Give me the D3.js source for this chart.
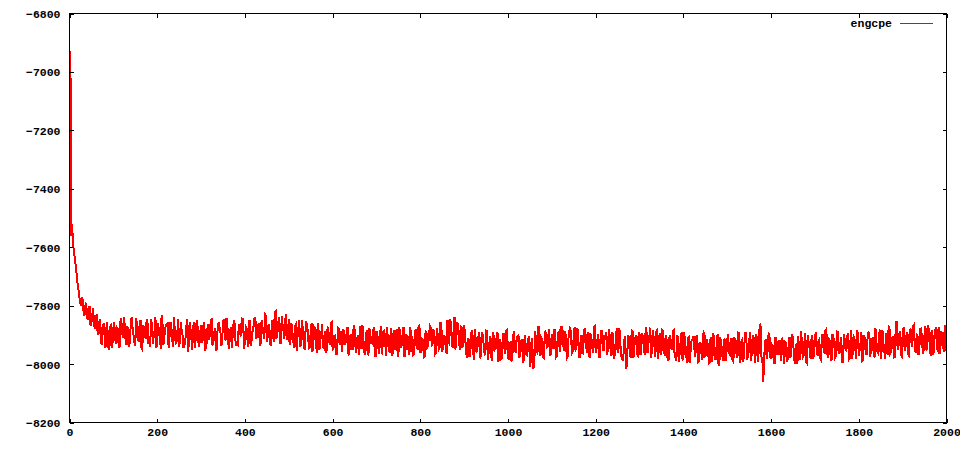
<!DOCTYPE html>
<html>
<head>
<meta charset="utf-8">
<script src="https://cdn.jsdelivr.net/npm/d3@7/dist/d3.min.js"></script>
<style>
  html, body { margin: 0; padding: 0; background: #fff; }
  svg { display: block; }
  .tick text { font-family: "Liberation Mono", "DejaVu Sans Mono", monospace; font-weight: bold; font-size: 11.5px; fill: #000; }
</style>
</head>
<body>
<svg id="chart" width="960" height="450"></svg>
<script>
// ---- data ----
const seriesName = "engcpe";
// samples at steps 2, 6, 10, ... (energyA) and 4, 8, 12, ... (energyB)
const energyA = [
-6928,-7520,-7610,-7660,-7720,-7760,-7800,-7780,-7835,-7790,
-7850,-7800,-7860,-7810,-7880,-7830,-7900,-7845,-7935,-7860,
-7945,-7855,-7950,-7870,-7930,
-7855,-7930,-7880,-7945,-7842,-7910,-7865,-7935,-7885,-7920,
-7840,-7900,-7938,-7868,-7925,-7850,-7950,-7875,-7915,-7860,
-7907,-7847,-7930,-7884,-7944,-7859,-7897,-7834,-7934,-7880,
-7867,-7945,-7855,-7913,-7840,-7928,-7892,-7942,-7857,-7903,
-7936,-7880,-7958,-7856,-7912,-7870,-7944,-7848,-7928,-7894,
-7928,-7856,-7948,-7883,-7918,-7850,-7936,-7890,-7954,-7868,
-7874,-7939,-7856,-7906,-7842,-7929,-7889,-7944,-7864,-7916,
-7932,-7867,-7902,-7844,-7947,-7874,-7920,-7852,-7938,-7880,
-7840,-7915,-7870,-7937,-7850,-7893,-7830,-7925,-7863,-7933,
-7848,-7923,-7820,-7898,-7838,-7928,-7866,-7913,-7830,-7906,
-7935,-7860,-7915,-7870,-7955,-7878,-7942,-7850,-7925,-7892,
-7866,-7946,-7890,-7958,-7873,-7920,-7860,-7952,-7903,-7938,
-7887,-7960,-7872,-7934,-7857,-7947,-7902,-7967,-7880,-7930,
-7958,-7888,-7926,-7873,-7970,-7898,-7948,-7880,-7963,-7903,
-7870,-7945,-7908,-7968,-7885,-7960,-7898,-7930,-7875,-7975,
-7894,-7964,-7870,-7940,-7884,-7972,-7914,-7957,-7877,-7947,
-7950,-7880,-7975,-7900,-7932,-7872,-7960,-7905,-7970,-7885,
-7904,-7967,-7880,-7950,-7867,-7960,-7917,-7974,-7890,-7937,
-7870,-7935,-7885,-7965,-7877,-7950,-7857,-7957,-7900,-7943,
-7848,-7930,-7860,-7945,-7840,-7920,-7865,-7950,-7875,-7938,
-7900,-7978,-7915,-7965,-7885,-7985,-7908,-7950,-7890,-7972,
-7897,-7960,-7885,-7987,-7923,-7975,-7890,-7950,-7907,-7993,
-7916,-7981,-7894,-7966,-7881,-7986,-7926,-7974,-7888,-7958,
-7905,-7980,-7922,-7995,-7900,-7968,-7915,-8010,-7910,-8015,
-7888,-7958,-7873,-7973,-7916,-7980,-7893,-7946,-7880,-7966,
-7945,-7880,-7975,-7895,-7960,-7873,-7933,-7887,-7980,-7910,
-7872,-7962,-7900,-7952,-7877,-7977,-7912,-7967,-7884,-7934,
-7890,-7975,-7910,-7963,-7870,-7947,-7897,-7973,-7883,-7955,
-7908,-7970,-7880,-7953,-7890,-7983,-7916,-7963,-7876,-7973,
-7990,-7905,-8015,-7900,-7970,-7885,-7980,-7912,-7965,-7890,
-7970,-7895,-7945,-7873,-7963,-7915,-7980,-7883,-7940,-7890,
-7982,-7894,-7960,-7887,-7972,-7917,-7987,-7902,-7952,-7884,
-7977,-7902,-7992,-7917,-7984,-7892,-7957,-7910,-7997,-7922,
-7907,-7975,-7900,-7993,-7925,-7985,-7890,-7970,-7915,-7997,
-7908,-7993,-7920,-7983,-7898,-8006,-7933,-7990,-7913,-7968,
-7897,-7967,-7910,-7992,-7924,-7980,-7894,-7997,-7917,-7972,
-7890,-7980,-7925,-7988,-7902,-7962,-7898,-7992,-7862,-7975,
-8062,-7925,-7983,-7900,-7975,-7933,-7993,-7910,-7965,-7920,
-7988,-7918,-8000,-7926,-7983,-7908,-7963,-7913,-7998,-7930,
-7904,-7987,-7917,-7972,-7894,-7997,-7930,-7982,-7900,-7962,
-7891,-7971,-7916,-7986,-7901,-7964,-7881,-7978,-7921,-7984,
-7908,-7978,-7888,-7963,-7926,-7993,-7898,-7956,-7903,-7983,
-7883,-7965,-7910,-7983,-7897,-7950,-7890,-7987,-7915,-7970,
-7892,-7977,-7917,-7970,-7877,-7957,-7902,-7982,-7884,-7952,
-7893,-7968,-7878,-7958,-7908,-7976,-7853,-7953,-7888,-7973,
-7875,-7955,-7892,-7970,-7882,-7940,-7865,-7962,-7905,-7950,
-7878,-7966,-7896,-7953,-7868,-7943,-7883,-7970,-7888,-7933,
-7873,-7948,-7898,-7958,-7880
];
const energyB = [
-7560,-7590,-7640,-7690,-7740,-7790,-7770,-7820,-7800,-7840,
-7815,-7870,-7830,-7865,-7840,-7890,-7855,-7925,-7870,-7905,
-7880,-7940,-7875,-7945,-7880,
-7910,-7875,-7935,-7855,-7895,-7840,-7920,-7870,-7940,-7850,
-7880,-7925,-7842,-7915,-7860,-7945,-7868,-7900,-7845,-7930,
-7940,-7862,-7904,-7840,-7930,-7884,-7947,-7857,-7912,-7867,
-7857,-7910,-7870,-7940,-7883,-7925,-7845,-7917,-7890,-7945,
-7925,-7845,-7935,-7882,-7950,-7858,-7908,-7872,-7940,-7868,
-7918,-7883,-7943,-7863,-7903,-7848,-7928,-7878,-7948,-7858,
-7884,-7929,-7846,-7919,-7864,-7949,-7872,-7904,-7849,-7934,
-7935,-7865,-7900,-7845,-7925,-7880,-7942,-7852,-7908,-7870,
-7847,-7900,-7860,-7930,-7873,-7915,-7835,-7907,-7880,-7935,
-7903,-7823,-7913,-7860,-7928,-7836,-7886,-7850,-7918,-7846,
-7920,-7885,-7945,-7865,-7905,-7850,-7930,-7880,-7950,-7860,
-7898,-7943,-7860,-7933,-7878,-7963,-7886,-7918,-7863,-7948,
-7960,-7882,-7924,-7860,-7950,-7904,-7967,-7877,-7932,-7887,
-7880,-7933,-7893,-7963,-7906,-7948,-7868,-7940,-7913,-7968,
-7945,-7865,-7955,-7902,-7970,-7878,-7928,-7892,-7960,-7888,
-7942,-7907,-7967,-7887,-7927,-7872,-7952,-7902,-7972,-7882,
-7910,-7955,-7872,-7945,-7890,-7975,-7898,-7930,-7875,-7960,
-7970,-7892,-7934,-7870,-7960,-7914,-7977,-7887,-7942,-7897,
-7877,-7930,-7890,-7960,-7903,-7945,-7865,-7937,-7910,-7965,
-7925,-7845,-7935,-7882,-7950,-7858,-7908,-7872,-7940,-7868,
-7950,-7915,-7975,-7895,-7935,-7880,-7960,-7910,-7980,-7890,
-7925,-7970,-7887,-7960,-7905,-7990,-7913,-7945,-7890,-7975,
-7984,-7906,-7948,-7884,-7974,-7928,-7991,-7901,-7956,-7911,
-7902,-7955,-7915,-7985,-7928,-7970,-7905,-7990,-7950,-8000,
-7953,-7873,-7963,-7910,-7978,-7886,-7936,-7900,-7968,-7896,
-7945,-7910,-7970,-7890,-7930,-7875,-7955,-7905,-7975,-7885,
-7912,-7957,-7874,-7947,-7892,-7977,-7900,-7932,-7877,-7962,
-7973,-7895,-7937,-7873,-7963,-7917,-7980,-7890,-7945,-7900,
-7890,-7943,-7903,-7973,-7916,-7958,-7878,-7950,-7923,-7978,
-7955,-7950,-7965,-7912,-7980,-7888,-7938,-7902,-7970,-7898,
-7945,-7910,-7970,-7890,-7930,-7875,-7955,-7905,-7975,-7885,
-7922,-7967,-7884,-7957,-7902,-7987,-7910,-7942,-7887,-7972,
-7990,-7912,-7954,-7890,-7980,-7934,-7997,-7907,-7962,-7917,
-7907,-7960,-7920,-7990,-7933,-7975,-7895,-7967,-7940,-7995,
-7973,-7893,-7983,-7930,-7998,-7906,-7956,-7920,-7988,-7916,
-7962,-7927,-7987,-7907,-7947,-7892,-7972,-7922,-7992,-7902,
-7930,-7975,-7892,-7965,-7910,-7995,-7918,-7950,-7870,-7980,
-7993,-7915,-7957,-7893,-7983,-7937,-8000,-7910,-7965,-7920,
-7910,-7963,-7923,-7993,-7936,-7978,-7898,-7970,-7943,-7998,
-7967,-7887,-7977,-7924,-7992,-7900,-7950,-7914,-7982,-7910,
-7956,-7921,-7981,-7901,-7941,-7886,-7966,-7916,-7986,-7896,
-7928,-7973,-7890,-7963,-7908,-7993,-7916,-7948,-7893,-7978,
-7983,-7905,-7947,-7883,-7973,-7927,-7990,-7900,-7955,-7910,
-7894,-7947,-7907,-7977,-7920,-7962,-7882,-7954,-7927,-7982,
-7953,-7873,-7963,-7910,-7978,-7886,-7936,-7900,-7968,-7896,
-7940,-7905,-7965,-7885,-7925,-7870,-7950,-7900,-7970,-7880,
-7908,-7953,-7870,-7943,-7888,-7973,-7896,-7928,-7873,-7958,
-7966,-7888,-7930,-7866,-7956
];
const xTicks = [0, 200, 400, 600, 800, 1000, 1200, 1400, 1600, 1800, 2000];
const yTicks = [-8200, -8000, -7800, -7600, -7400, -7200, -7000, -6800];

// ---- layout ----
const svg = d3.select("#chart");
const L = 69.5, R = 946.5, T = 13.5, B = 422.5;

const x = d3.scaleLinear().domain([0, 2000]).range([L, R]);
const y = d3.scaleLinear().domain([-8200, -6800]).range([B, T]);

const points = [];
energyA.forEach((v, i) => {
  points.push([2 + 4 * i, v]);
  points.push([4 + 4 * i, energyB[i]]);
});

// data line
svg.append("path")
  .datum(points)
  .attr("fill", "none")
  .attr("stroke", "#ff0000")
  .attr("stroke-width", 2)
  .attr("stroke-linejoin", "miter")
  .attr("shape-rendering", "crispEdges")
  .attr("d", d3.line().x(d => x(d[0])).y(d => y(d[1])));

// axes with inward ticks (mirrored on all four sides)
function styleAxis(g) {
  g.select(".domain").remove();
  g.selectAll(".tick line").attr("stroke", "#000").attr("stroke-width", 1).attr("shape-rendering", "crispEdges");
}

svg.append("g").attr("transform", `translate(${L},0)`)
  .call(d3.axisLeft(y).tickValues(yTicks).tickSize(-4).tickPadding(9).tickFormat(d3.format("d")))
  .call(styleAxis)
  .call(g => g.selectAll(".tick text").attr("dy", "0.35em"));

svg.append("g").attr("transform", `translate(${R},0)`)
  .call(d3.axisRight(y).tickValues(yTicks).tickSize(-4).tickFormat(""))
  .call(styleAxis);

svg.append("g").attr("transform", `translate(0,${B})`)
  .call(d3.axisBottom(x).tickValues(xTicks).tickSize(-4).tickPadding(5).tickFormat(d3.format("d")))
  .call(styleAxis)
  .call(g => g.selectAll(".tick text").attr("dy", "0.71em"));

svg.append("g").attr("transform", `translate(0,${T})`)
  .call(d3.axisTop(x).tickValues(xTicks).tickSize(-4).tickFormat(""))
  .call(styleAxis);

// frame
svg.append("rect")
  .attr("x", L).attr("y", T).attr("width", R - L).attr("height", B - T)
  .attr("fill", "none").attr("stroke", "#000").attr("stroke-width", 1)
  .attr("shape-rendering", "crispEdges");

// legend
const lg = svg.append("g");
lg.append("text")
  .attr("x", 892).attr("y", 27)
  .attr("text-anchor", "end")
  .style("font-family", "'Liberation Mono', 'DejaVu Sans Mono', monospace")
  .style("font-weight", "bold").style("font-size", "11.5px")
  .text(seriesName);
lg.append("line")
  .attr("x1", 900).attr("x2", 933).attr("y1", 23.5).attr("y2", 23.5)
  .attr("stroke", "#ff0000").attr("stroke-width", 1)
  .attr("shape-rendering", "crispEdges");
</script>
</body>
</html>
